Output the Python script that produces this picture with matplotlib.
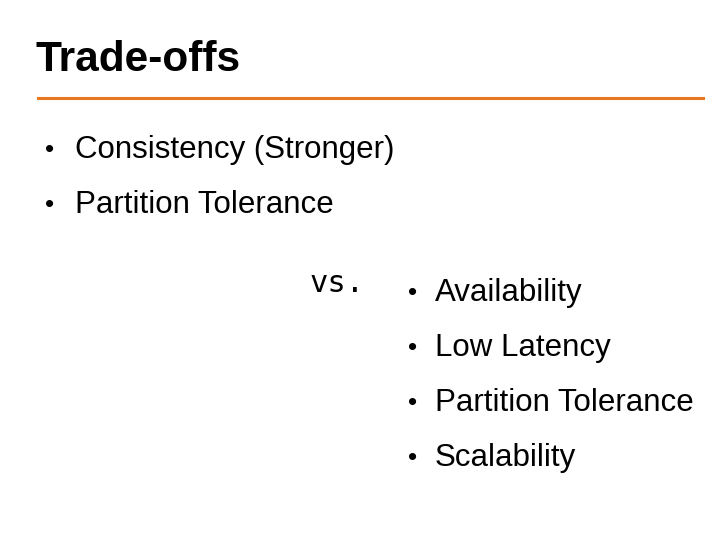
import matplotlib
matplotlib.use("Agg")
import matplotlib.pyplot as plt
from matplotlib.lines import Line2D

title = "Trade-offs"
left_items = ["Consistency (Stronger)", "Partition Tolerance"]
right_items = ["Availability", "Low Latency", "Partition Tolerance", "Scalability"]
vs_text = "vs."

W, H = 720, 540
fig = plt.figure(figsize=(7.2, 5.4), dpi=100)
fig.patch.set_facecolor("white")
def fx(x): return x / W
def fy(y): return 1 - y / H

fig.text(fx(35), fy(60), title, family="Liberation Sans", weight="bold",
         fontsize=30.5, va="center", ha="left", color="black")
fig.add_artist(Line2D([fx(38), fx(703)], [fy(98), fy(98)], color="#E87722", lw=2.2))

FS = 22.5
for i, t in enumerate(left_items):
    y = 150 + i * 55
    fig.text(fx(45), fy(y), "•", family="Liberation Sans", fontsize=19, va="center")
    fig.text(fx(75), fy(y), t, family="Liberation Sans", fontsize=FS, va="center")

fig.text(fx(310), fy(283), vs_text, family="DejaVu Sans Mono", fontsize=22, va="center")

for i, t in enumerate(right_items):
    y = 293 + i * 55
    fig.text(fx(408), fy(y), "•", family="Liberation Sans", fontsize=19, va="center")
    fig.text(fx(435), fy(y), t, family="Liberation Sans", fontsize=FS, va="center")

fig.savefig("out.png", dpi=100)
